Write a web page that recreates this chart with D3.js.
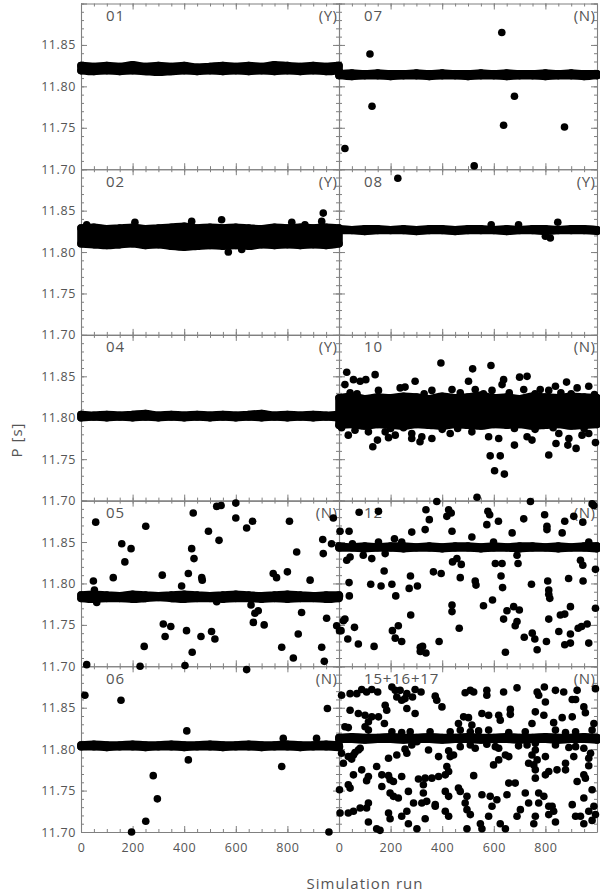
<!DOCTYPE html>
<html>
<head>
<meta charset="utf-8">
<script src="https://cdn.jsdelivr.net/npm/d3@7"></script>
<style>
  body { margin: 0; background: #fff; }
  text { font-family: 'Open Sans', 'DejaVu Sans', sans-serif; fill: #555; }
</style>
</head>
<body>
<svg id="chart" width="600" height="893"></svg>
<script>
// ---------------------------------------------------------------------------
// Data. Runs 0..1000, period P in seconds.
// ---------------------------------------------------------------------------
const panelIds = ['01', '02', '04', '05', '06', '07', '08', '10', '12', '15+16+17'];
const panelFlags = ['(Y)', '(Y)', '(Y)', '(N)', '(N)', '(N)', '(Y)', '(N)', '(N)', '(N)'];

const xMajor = [0, 200, 400, 600, 800, 1000];
const xLabels = [0, 200, 400, 600, 800];
const yMajor = [11.70, 11.75, 11.80, 11.85, 11.90];
const yLabels = [11.70, 11.75, 11.80, 11.85];

// dense band of converged runs: upper / lower edge sampled every 50 runs
const bandRuns = [0, 50, 100, 150, 200, 250, 300, 350, 400, 450, 500, 550, 600, 650, 700, 750, 800, 850, 900, 950, 1000];

const top01 = [11.825, 11.824, 11.825, 11.824, 11.826, 11.824, 11.825, 11.824, 11.825, 11.823, 11.824, 11.825, 11.824, 11.825, 11.824, 11.826, 11.825, 11.824, 11.825, 11.824, 11.825];
const bot01 = [11.819, 11.818, 11.819, 11.818, 11.819, 11.818, 11.817, 11.818, 11.819, 11.818, 11.819, 11.818, 11.819, 11.818, 11.819, 11.818, 11.819, 11.818, 11.819, 11.818, 11.819];
const top02 = [11.829, 11.830, 11.828, 11.829, 11.830, 11.828, 11.829, 11.830, 11.831, 11.829, 11.830, 11.829, 11.830, 11.829, 11.828, 11.830, 11.829, 11.830, 11.829, 11.830, 11.829];
const bot02 = [11.810, 11.809, 11.808, 11.809, 11.810, 11.808, 11.809, 11.807, 11.806, 11.807, 11.808, 11.807, 11.808, 11.807, 11.809, 11.808, 11.809, 11.808, 11.809, 11.808, 11.810];
const top04 = [11.804, 11.803, 11.804, 11.803, 11.804, 11.805, 11.803, 11.804, 11.803, 11.804, 11.803, 11.804, 11.803, 11.804, 11.805, 11.803, 11.804, 11.803, 11.804, 11.803, 11.804];
const bot04 = [11.800, 11.801, 11.800, 11.801, 11.800, 11.801, 11.800, 11.801, 11.800, 11.801, 11.800, 11.801, 11.800, 11.801, 11.800, 11.801, 11.800, 11.801, 11.800, 11.801, 11.800];
const top05 = [11.786, 11.787, 11.786, 11.785, 11.787, 11.786, 11.785, 11.786, 11.787, 11.786, 11.785, 11.786, 11.787, 11.786, 11.785, 11.786, 11.787, 11.786, 11.785, 11.786, 11.786];
const bot05 = [11.782, 11.781, 11.782, 11.782, 11.781, 11.782, 11.783, 11.782, 11.781, 11.782, 11.782, 11.781, 11.782, 11.782, 11.781, 11.782, 11.781, 11.782, 11.782, 11.781, 11.782];
const top06 = [11.805, 11.806, 11.805, 11.805, 11.806, 11.805, 11.805, 11.806, 11.805, 11.805, 11.806, 11.805, 11.805, 11.806, 11.805, 11.805, 11.806, 11.805, 11.805, 11.806, 11.805];
const bot06 = [11.803, 11.803, 11.802, 11.803, 11.803, 11.802, 11.803, 11.803, 11.802, 11.803, 11.803, 11.802, 11.803, 11.803, 11.802, 11.803, 11.803, 11.802, 11.803, 11.803, 11.802];
const top07 = [11.815, 11.816, 11.815, 11.816, 11.815, 11.815, 11.816, 11.815, 11.816, 11.815, 11.815, 11.816, 11.815, 11.816, 11.815, 11.815, 11.816, 11.815, 11.816, 11.815, 11.815];
const bot07 = [11.813, 11.812, 11.813, 11.813, 11.812, 11.813, 11.813, 11.812, 11.813, 11.813, 11.812, 11.813, 11.813, 11.812, 11.813, 11.813, 11.812, 11.813, 11.813, 11.812, 11.813];
const top08 = [11.828, 11.827, 11.828, 11.828, 11.827, 11.828, 11.827, 11.828, 11.828, 11.827, 11.828, 11.828, 11.827, 11.828, 11.827, 11.828, 11.828, 11.827, 11.828, 11.828, 11.827];
const bot08 = [11.826, 11.826, 11.825, 11.826, 11.826, 11.826, 11.825, 11.826, 11.826, 11.825, 11.826, 11.826, 11.826, 11.825, 11.826, 11.826, 11.825, 11.826, 11.826, 11.826, 11.825];
const top10 = [11.824, 11.826, 11.823, 11.825, 11.824, 11.826, 11.825, 11.823, 11.826, 11.824, 11.825, 11.827, 11.824, 11.825, 11.823, 11.826, 11.825, 11.824, 11.826, 11.825, 11.824];
const bot10 = [11.791, 11.792, 11.790, 11.792, 11.791, 11.790, 11.792, 11.791, 11.790, 11.792, 11.791, 11.790, 11.792, 11.791, 11.792, 11.790, 11.791, 11.792, 11.790, 11.791, 11.792];
const top12 = [11.845, 11.844, 11.845, 11.844, 11.845, 11.845, 11.844, 11.845, 11.844, 11.845, 11.845, 11.844, 11.845, 11.844, 11.845, 11.845, 11.844, 11.845, 11.844, 11.845, 11.845];
const bot12 = [11.843, 11.843, 11.842, 11.843, 11.843, 11.842, 11.843, 11.843, 11.842, 11.843, 11.843, 11.842, 11.843, 11.843, 11.842, 11.843, 11.843, 11.842, 11.843, 11.843, 11.842];
const top15 = [11.814, 11.815, 11.814, 11.814, 11.815, 11.814, 11.814, 11.815, 11.814, 11.814, 11.815, 11.814, 11.814, 11.815, 11.814, 11.814, 11.815, 11.814, 11.814, 11.815, 11.814];
const bot15 = [11.812, 11.812, 11.811, 11.812, 11.812, 11.811, 11.812, 11.812, 11.811, 11.812, 11.812, 11.811, 11.812, 11.812, 11.811, 11.812, 11.812, 11.811, 11.812, 11.812, 11.811];

// individual runs off the band: [run, P]
const pts01 = [];
const pts02 = [[22, 11.833], [209, 11.836], [429, 11.837], [545, 11.839], [571, 11.800], [623, 11.803], [817, 11.836], [868, 11.833], [933, 11.837], [939, 11.847]];
const pts04 = [];
const pts05 = [[22, 11.702], [48, 11.803], [52, 11.792], [61, 11.777], [57, 11.874], [125, 11.807], [158, 11.848], [170, 11.826], [194, 11.842], [229, 11.700], [245, 11.724], [251, 11.869], [315, 11.810], [319, 11.751], [326, 11.736], [348, 11.748], [390, 11.797], [403, 11.701], [409, 11.743], [416, 11.812], [429, 11.842], [435, 11.885], [438, 11.830], [431, 11.717], [465, 11.736], [468, 11.807], [470, 11.804], [494, 11.863], [506, 11.742], [519, 11.733], [526, 11.893], [543, 11.894], [535, 11.852], [526, 11.778], [600, 11.897], [600, 11.879], [642, 11.867], [665, 11.875], [659, 11.774], [668, 11.753], [674, 11.764], [687, 11.767], [710, 11.750], [745, 11.812], [758, 11.807], [778, 11.723], [800, 11.814], [808, 11.875], [823, 11.710], [836, 11.838], [842, 11.739], [855, 11.765], [888, 11.804], [933, 11.723], [937, 11.853], [939, 11.836], [943, 11.706], [952, 11.758], [971, 11.848], [978, 11.879], [991, 11.749]];
const pts06 = [[15, 11.865], [155, 11.859], [410, 11.822], [416, 11.787], [280, 11.768], [296, 11.740], [251, 11.713], [196, 11.700], [642, 11.896], [784, 11.813], [778, 11.779], [913, 11.813], [955, 11.849], [961, 11.700]];
const pts07 = [[23, 11.725], [120, 11.839], [128, 11.776], [524, 11.704], [631, 11.865], [638, 11.753], [680, 11.788], [874, 11.751]];
const pts08 = [[228, 11.889], [590, 11.833], [696, 11.833], [800, 11.819], [819, 11.817], [848, 11.836]];
const pts10 = [[395, 11.866], [518, 11.859], [589, 11.863], [30, 11.855], [140, 11.852], [502, 11.844], [700, 11.849], [729, 11.850], [638, 11.846], [295, 11.844], [56, 11.846], [82, 11.844], [104, 11.846], [23, 11.840], [256, 11.837], [882, 11.843], [839, 11.838], [968, 11.838], [923, 11.836], [438, 11.834], [528, 11.834], [632, 11.840], [153, 11.833], [716, 11.834], [780, 11.834], [43, 11.830], [237, 11.836], [813, 11.833], [360, 11.833], [593, 11.833],
  [70, 11.829], [330, 11.829], [470, 11.830], [560, 11.829], [660, 11.830], [760, 11.829], [860, 11.830], [900, 11.829], [990, 11.828],
  [10, 11.788], [200, 11.787], [250, 11.788], [400, 11.786], [460, 11.787], [680, 11.787], [760, 11.786], [830, 11.788], [950, 11.787],
  [36, 11.779], [131, 11.765], [149, 11.773], [192, 11.776], [218, 11.779], [282, 11.775], [314, 11.771], [321, 11.777], [360, 11.775], [179, 11.783], [431, 11.781], [580, 11.777], [619, 11.775], [586, 11.754], [625, 11.754], [603, 11.736], [641, 11.732], [535, 11.704], [680, 11.767], [729, 11.777], [748, 11.773], [813, 11.755], [841, 11.769], [887, 11.767], [919, 11.763], [942, 11.779], [891, 11.775], [852, 11.781], [968, 11.781], [994, 11.770], [515, 11.783], [282, 11.781], [114, 11.783], [62, 11.785]];
const pts12 = [[78, 11.886], [153, 11.887], [337, 11.889], [425, 11.889], [418, 11.881], [435, 11.885], [350, 11.877], [379, 11.899], [742, 11.899], [981, 11.896], [577, 11.887], [584, 11.883], [573, 11.871], [618, 11.875], [716, 11.878], [797, 11.883], [806, 11.869], [806, 11.865], [875, 11.875], [910, 11.881], [945, 11.874], [988, 11.894], [865, 11.861], [671, 11.861], [515, 11.856], [438, 11.863], [334, 11.865], [282, 11.862], [215, 11.854], [243, 11.850], [153, 11.850], [599, 11.850], [4, 11.863], [39, 11.863], [52, 11.848], [968, 11.850],
  [30, 11.828], [43, 11.832], [94, 11.834], [127, 11.830], [179, 11.836], [440, 11.826], [457, 11.830], [474, 11.823], [606, 11.824], [632, 11.824], [690, 11.834], [694, 11.824], [936, 11.828], [945, 11.822], [994, 11.817], [175, 11.815], [366, 11.814], [396, 11.812], [277, 11.809], [470, 11.807], [528, 11.803], [531, 11.798], [628, 11.809], [634, 11.795], [746, 11.799], [809, 11.803], [890, 11.806], [946, 11.803], [39, 11.801], [40, 11.785], [123, 11.799], [163, 11.797], [205, 11.799], [220, 11.785], [272, 11.794], [304, 11.797], [2, 11.785],
  [438, 11.774], [438, 11.766], [560, 11.773], [595, 11.780], [651, 11.767], [677, 11.772], [699, 11.768], [638, 11.757], [690, 11.754], [683, 11.749], [813, 11.792], [813, 11.787], [817, 11.782], [813, 11.757], [858, 11.762], [875, 11.763], [897, 11.772], [994, 11.770], [962, 11.751], [940, 11.748], [927, 11.746], [852, 11.742], [897, 11.739], [875, 11.726], [897, 11.728], [968, 11.728], [804, 11.730], [768, 11.720], [759, 11.733], [749, 11.740], [718, 11.735], [645, 11.717], [466, 11.746], [388, 11.730], [315, 11.723], [337, 11.716], [324, 11.724], [315, 11.718], [243, 11.730], [218, 11.734], [207, 11.743], [230, 11.749], [278, 11.762], [60, 11.747], [23, 11.757], [17, 11.755], [8, 11.743], [34, 11.733], [75, 11.727], [136, 11.724], [2, 11.743]];
const pts15 = [[10, 11.865], [43, 11.867], [69, 11.867], [88, 11.872], [107, 11.869], [127, 11.872], [150, 11.869], [205, 11.875], [218, 11.871], [237, 11.871], [224, 11.863], [256, 11.861], [263, 11.867], [285, 11.863], [295, 11.872], [318, 11.869], [373, 11.864], [379, 11.859], [399, 11.851], [489, 11.868], [509, 11.871], [522, 11.869], [573, 11.871], [573, 11.865], [638, 11.869], [690, 11.874], [768, 11.869], [774, 11.865], [796, 11.875], [800, 11.857], [839, 11.871], [871, 11.869], [904, 11.860], [917, 11.860], [923, 11.871], [994, 11.873], [243, 11.859], [179, 11.853],
  [43, 11.847], [75, 11.843], [101, 11.841], [114, 11.833], [127, 11.839], [153, 11.839], [185, 11.847], [176, 11.831], [295, 11.843], [263, 11.849], [463, 11.831], [483, 11.839], [502, 11.838], [515, 11.829], [554, 11.843], [580, 11.841], [619, 11.841], [625, 11.835], [664, 11.848], [664, 11.842], [748, 11.831], [761, 11.845], [794, 11.841], [832, 11.832], [865, 11.838], [904, 11.839], [949, 11.851], [955, 11.844], [988, 11.831], [23, 11.827], [36, 11.826], [101, 11.827], [114, 11.823],
  [205, 11.821], [243, 11.820], [276, 11.821], [353, 11.821], [431, 11.821], [470, 11.823], [509, 11.821], [541, 11.822], [580, 11.823], [658, 11.820], [722, 11.821], [839, 11.823], [878, 11.820], [917, 11.821], [981, 11.823],
  [2, 11.803], [10, 11.795], [36, 11.791], [49, 11.788], [56, 11.793], [62, 11.796], [75, 11.799], [82, 11.801], [192, 11.789], [224, 11.793], [256, 11.800], [263, 11.795], [302, 11.809], [282, 11.805], [347, 11.799], [386, 11.791], [425, 11.798], [431, 11.791], [444, 11.793], [470, 11.803], [509, 11.805], [528, 11.801], [573, 11.806], [606, 11.803], [619, 11.801], [645, 11.793], [658, 11.791], [696, 11.804], [729, 11.805], [761, 11.807], [761, 11.799], [748, 11.793], [768, 11.787], [800, 11.791], [839, 11.805], [891, 11.802], [917, 11.803], [910, 11.791], [949, 11.801], [975, 11.795],
  [17, 11.783], [56, 11.769], [88, 11.775], [114, 11.767], [107, 11.762], [146, 11.779], [166, 11.769], [192, 11.768], [198, 11.763], [243, 11.767], [211, 11.761], [308, 11.764], [327, 11.757], [334, 11.765], [360, 11.765], [386, 11.767], [412, 11.769], [418, 11.779], [425, 11.773], [522, 11.768], [599, 11.781], [619, 11.787], [658, 11.759], [683, 11.759], [735, 11.783], [755, 11.781], [761, 11.775], [761, 11.765], [800, 11.769], [813, 11.773], [845, 11.775], [878, 11.775], [878, 11.783], [923, 11.761], [949, 11.769], [968, 11.780], [955, 11.765], [968, 11.789],
  [2, 11.751], [36, 11.757], [43, 11.753], [166, 11.755], [198, 11.747], [211, 11.743], [230, 11.741], [269, 11.749], [327, 11.747], [289, 11.735], [321, 11.735], [340, 11.737], [373, 11.733], [412, 11.749], [425, 11.743], [463, 11.753], [470, 11.749], [496, 11.743], [489, 11.735], [554, 11.745], [586, 11.743], [612, 11.739], [651, 11.745], [722, 11.747], [735, 11.735], [774, 11.747], [774, 11.735], [794, 11.743], [813, 11.731], [826, 11.731], [904, 11.733], [949, 11.741], [981, 11.751], [988, 11.731],
  [4, 11.723], [36, 11.723], [56, 11.725], [82, 11.729], [114, 11.735], [107, 11.729], [114, 11.712], [192, 11.723], [198, 11.716], [243, 11.719], [263, 11.725], [269, 11.710], [302, 11.704], [334, 11.716], [373, 11.731], [412, 11.725], [425, 11.719], [496, 11.727], [509, 11.721], [548, 11.710], [580, 11.719], [593, 11.731], [625, 11.710], [690, 11.719], [703, 11.727], [755, 11.710], [761, 11.719], [813, 11.721], [832, 11.725], [839, 11.712], [917, 11.719], [936, 11.719], [949, 11.710], [968, 11.725], [981, 11.714], [994, 11.721], [146, 11.704], [159, 11.702], [496, 11.704], [554, 11.704], [645, 11.704]];

const bandTops = [top01, top02, top04, top05, top06, top07, top08, top10, top12, top15];
const bandBots = [bot01, bot02, bot04, bot05, bot06, bot07, bot08, bot10, bot12, bot15];
const panelPts = [pts01, pts02, pts04, pts05, pts06, pts07, pts08, pts10, pts12, pts15];

// ---------------------------------------------------------------------------
// Layout
// ---------------------------------------------------------------------------
const colLeft = [81, 339];
const colWidth = 258;
const rowTop = 3.5;
const rowHeight = 165.7;
const dotR = 3.8;
const frameColor = '#808080';

const svg = d3.select('#chart');
const frameLayer = svg.append('g').classed('frames', true);
const dataLayer = svg.append('g').classed('data', true);

const panels = panelIds.map((id, i) => {
  const col = i < 5 ? 0 : 1;
  const row = i % 5;
  const x = d3.scaleLinear().domain([0, 1000]).range([colLeft[col], colLeft[col] + colWidth]);
  const y = d3.scaleLinear().domain([11.70, 11.90])
    .range([rowTop + (row + 1) * rowHeight, rowTop + row * rowHeight]);
  const band = bandRuns.map((run, k) => [run, bandTops[i][k], bandBots[i][k]]);
  return { id, flag: panelFlags[i], col, row, x, y, band, pts: panelPts[i] };
});

function styleAxis(g, keepDomain) {
  g.selectAll('text').remove();
  g.selectAll('line').attr('stroke', frameColor);
  if (keepDomain) {
    g.select('.domain').attr('stroke', frameColor).attr('stroke-width', 1.1);
  } else {
    g.select('.domain').remove();
  }
}

panels.forEach((p) => {
  const [x0, x1] = p.x.range();
  const [yb, yt] = p.y.range();
  const g = frameLayer.append('g').classed('panel', true);

  // inward ticks on all four sides (major + minor)
  const sides = [
    { axis: d3.axisBottom, scale: p.x, at: `translate(0,${yt})`, major: xMajor, minor: d3.range(0, 1001, 50) },
    { axis: d3.axisTop, scale: p.x, at: `translate(0,${yb})`, major: xMajor, minor: d3.range(0, 1001, 50) },
    { axis: d3.axisRight, scale: p.y, at: `translate(${x0},0)`, major: yMajor, minor: d3.range(0, 21).map(k => 11.70 + k * 0.01) },
    { axis: d3.axisLeft, scale: p.y, at: `translate(${x1},0)`, major: yMajor, minor: d3.range(0, 21).map(k => 11.70 + k * 0.01) },
  ];
  sides.forEach((s) => {
    g.append('g').attr('transform', s.at)
      .call(s.axis(s.scale).tickValues(s.minor).tickSize(3).tickSizeOuter(0))
      .call(a => styleAxis(a, false));
    g.append('g').attr('transform', s.at)
      .call(s.axis(s.scale).tickValues(s.major).tickSize(6).tickSizeOuter(0))
      .call(a => styleAxis(a, true));
  });

  // tick labels
  if (p.col === 0) {
    const ya = g.append('g').attr('transform', `translate(${x0},0)`)
      .call(d3.axisLeft(p.y).tickValues(yLabels).tickSize(0).tickPadding(5).tickFormat(d3.format('.2f')));
    ya.select('.domain').remove();
    ya.selectAll('text').attr('font-size', 12.5).attr('letter-spacing', 0.6)
      .attr('font-family', null).attr('fill', null);
  }
  if (p.row === 4) {
    const xa = g.append('g').attr('transform', `translate(0,${yb})`)
      .call(d3.axisBottom(p.x).tickValues(xLabels).tickSize(0).tickPadding(11));
    xa.select('.domain').remove();
    xa.selectAll('text').attr('font-size', 12.5).attr('letter-spacing', 0.6)
      .attr('font-family', null).attr('fill', null);
  }

  // panel name and flag
  g.append('text').attr('x', x0 + 25).attr('y', yt + 17.5)
    .attr('font-size', 15).attr('letter-spacing', 0.8).text(p.id);
  g.append('text').attr('x', x1 - 1.5).attr('y', yt + 17.5)
    .attr('text-anchor', 'end').attr('font-size', 15).attr('letter-spacing', 0.5).text(p.flag);
});

// data: the converged band, its edge runs, and the scattered runs
panels.forEach((p) => {
  const g = dataLayer.append('g').classed('points', true);
  const area = d3.area()
    .x(d => p.x(d[0]))
    .y0(d => p.y(d[2]))
    .y1(d => p.y(d[1]))
    .curve(d3.curveMonotoneX);
  g.append('path').datum(p.band)
    .attr('d', area)
    .attr('fill', '#000')
    .attr('stroke', '#000')
    .attr('stroke-width', 2 * dotR)
    .attr('stroke-linejoin', 'round');
  const edge = p.band.flatMap(d => [[d[0], d[1]], [d[0], d[2]]]);
  g.selectAll('circle.edge').data(edge).enter().append('circle')
    .classed('edge', true)
    .attr('cx', d => p.x(d[0])).attr('cy', d => p.y(d[1])).attr('r', dotR);
  g.selectAll('circle.run').data(p.pts).enter().append('circle')
    .classed('run', true)
    .attr('cx', d => p.x(d[0])).attr('cy', d => p.y(d[1])).attr('r', dotR);
});

// axis titles
svg.append('text')
  .attr('transform', 'translate(22,440) rotate(-90)')
  .attr('text-anchor', 'middle').attr('font-size', 15).attr('letter-spacing', 1)
  .text('P [s]');
svg.append('text')
  .attr('x', 365).attr('y', 889)
  .attr('text-anchor', 'middle').attr('font-size', 15).attr('letter-spacing', 1)
  .text('Simulation run');
</script>
</body>
</html>
